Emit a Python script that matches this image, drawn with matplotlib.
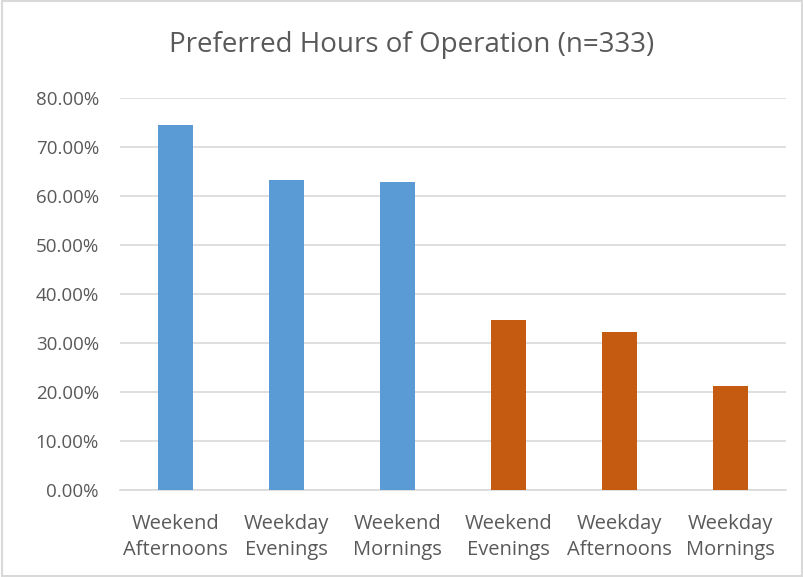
import matplotlib.pyplot as plt
from matplotlib.ticker import PercentFormatter

plt.rcParams['font.family'] = ['Open Sans', 'DejaVu Sans']

categories = ['Weekend\nAfternoons', 'Weekday\nEvenings', 'Weekend\nMornings',
              'Weekend\nEvenings', 'Weekday\nAfternoons', 'Weekday\nMornings']
values = [74.5, 63.2, 62.9, 34.7, 32.2, 21.2]
colors = ['#5B9BD5'] * 3 + ['#C55A11'] * 3
title = 'Preferred Hours of Operation (n=333)'

text_color = '#595959'
grid_color = '#D9D9D9'

fig = plt.figure(figsize=(8.04, 5.77), dpi=100)
ax = fig.add_axes([0.149, 0.1508, 0.829, 0.679])

x = range(len(categories))
ax.bar(x, values, width=0.315, color=colors, zorder=3)

ax.set_xlim(-0.5, len(categories) - 0.5)
ax.set_ylim(0, 80)
ax.set_yticks(range(0, 81, 10))
ax.yaxis.set_major_formatter(PercentFormatter(decimals=2))
ax.set_xticks(list(x))
ax.set_xticklabels(categories, fontsize=14.5, color=text_color, linespacing=1.4)
ax.tick_params(axis='y', labelsize=13.5, colors=text_color, length=0, pad=15)
ax.tick_params(axis='x', length=0, pad=17)

ax.grid(axis='y', color=grid_color, lw=1.2, zorder=0)
for s in ['top', 'right', 'left']:
    ax.spines[s].set_visible(False)
ax.spines['bottom'].set_color(grid_color)
ax.spines['bottom'].set_linewidth(1.2)

fig.text(0.512, 0.922, title, ha='center', va='center', fontsize=20, color=text_color)

# chart border
fig.patches.append(plt.Rectangle((0.002, 0.002), 0.996, 0.996, transform=fig.transFigure,
                                 fill=False, edgecolor=grid_color, lw=1.5))

fig.savefig('out.png', dpi=100)
